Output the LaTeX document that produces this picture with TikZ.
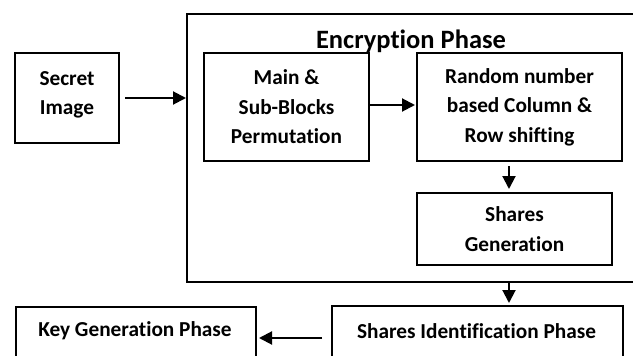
\documentclass[tikz,border=0pt]{standalone}
\usepackage{fontspec}
\setmainfont{Carlito}[RawFeature={-liga}]
\usetikzlibrary{arrows.meta}
\tikzset{
  blk/.style={draw, line width=2pt, align=center, inner sep=0pt,
    font=\fontsize{21.3}{29.5}\selectfont\bfseries},
  arr/.style={line width=2pt, -{Triangle[length=13pt,width=13pt]}},
  ttl/.style={font=\fontsize{26.5}{30}\selectfont\bfseries, inner sep=0pt}
}
\begin{document}
\begin{tikzpicture}[x=1pt,y=-1pt]
\useasboundingbox (0,0) rectangle (633,356);
\clip (0,0) rectangle (633,356);
% encryption phase frame (right edge runs past the page)
\node[blk, minimum width=460pt, minimum height=268pt, anchor=north west] (enc) at (186,13) {};
\node[ttl] (title) at (411,41) {Encryption Phase};
% boxes
\node[blk, minimum width=104pt, minimum height=90pt] (secret) at (67,98) {};
\node[blk, draw=none] (secrettxt) at (67,95) {Secret\\Image};
\node[blk, minimum width=165pt, minimum height=108pt] (main) at (286.5,107) {Main \&\\Sub-Blocks\\Permutation};
\node[blk, minimum width=205pt, minimum height=108pt] (rand) at (519.5,107) {Random number\\based Column \&\\Row shifting};
\node[blk, minimum width=195pt, minimum height=72pt] (shgen) at (514.5,229) {Shares\\Generation};
\node[blk, minimum width=291pt, minimum height=66pt, anchor=north west] (shid) at (331,305) {};
\node[blk, draw=none] (shidtxt) at (476.5,331) {Shares Identification Phase};
\node[blk, minimum width=240pt, minimum height=66pt, anchor=north west] (keygen) at (15,306) {};
\node[blk, draw=none] (keytxt) at (135,331) {Key Generation Phase};
% connectors
\coordinate (vx) at (509,0);
\coordinate (hy) at (0,338);
\draw[arr, shorten <=5pt] (secret.east) -- (secret.east -| enc.west);
\draw[arr, shorten >=1pt] ([yshift=2pt]main.east) -- ([yshift=2pt]main.east -| rand.west);
\draw[arr, shorten <=4pt, shorten >=3pt] (rand.south -| vx) -- (shgen.north -| vx);
\draw[arr, shorten >=2pt] (enc.south -| vx) -- (shid.north -| vx);
\draw[arr, shorten <=9pt, shorten >=2pt] (shid.west |- hy) -- (keygen.east |- hy);
\end{tikzpicture}
\end{document}
